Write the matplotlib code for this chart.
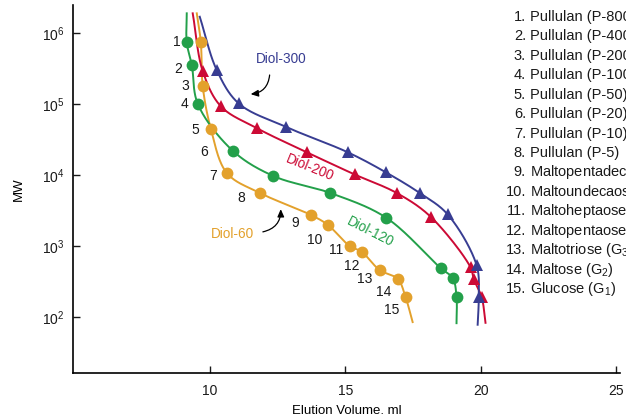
import numpy as np
import matplotlib
matplotlib.use("Agg")
import matplotlib.pyplot as plt

plt.rcParams['font.family'] = ['Liberation Sans', 'DejaVu Sans']
plt.rcParams['mathtext.fontset'] = 'custom'
plt.rcParams['mathtext.rm'] = 'Liberation Sans'
plt.rcParams['mathtext.it'] = 'Liberation Sans:italic'
plt.rcParams['mathtext.default'] = 'regular'

# marker values (elution volume ml, MW)
d60_x = [9.67, 9.74, 10.04, 10.63, 11.85, 13.73, 14.35, 15.17, 15.61, 16.27, 16.94, 17.23]
d60_mw = [7.4e5, 1.78e5, 4.5e4, 1.07e4, 5.6e3, 2.75e3, 2.0e3, 1.0e3, 830, 460, 345, 190]
d120_x = [9.15, 9.34, 9.56, 10.85, 12.35, 14.45, 16.52, 18.52, 18.97, 19.11]
d120_mw = [7.4e5, 3.5e5, 1.0e5, 2.2e4, 9.7e3, 5.6e3, 2.5e3, 490, 355, 190]
d200_x = [9.74, 10.41, 11.73, 13.58, 15.35, 16.90, 18.15, 19.63, 19.74, 20.04]
d200_mw = [2.92e5, 9.3e4, 4.6e4, 2.1e4, 1.02e4, 5.6e3, 2.6e3, 500, 347, 190]
d300_x = [10.26, 11.07, 12.80, 15.09, 16.49, 17.75, 18.78, 19.85, 19.93]
d300_mw = [3.0e5, 1.02e5, 4.8e4, 2.1e4, 1.1e4, 5.6e3, 2.8e3, 540, 190]

# where each fitted line starts (top) and ends (bottom)
d60_ends = [(9.52, 1.9e6), (17.49, 85)]
d120_ends = [(9.15, 1.9e6), (19.11, 82)]
d200_ends = [(9.37, 1.9e6), (20.18, 83)]
d300_ends = [(9.63, 1.7e6), (19.89, 78)]

standards = ["Pullulan (P-800)", "Pullulan (P-400)", "Pullulan (P-200)", "Pullulan (P-100)",
             "Pullulan (P-50)", "Pullulan (P-20)", "Pullulan (P-10)", "Pullulan (P-5)",
             "Maltopentadecaose (G$_{15}$)", "Maltoundecaose (G$_{11}$)",
             "Maltoheptaose (G$_{7}$)", "Maltopentaose (G$_{5}$)", "Maltotriose (G$_{3}$)",
             "Maltose (G$_{2}$)", "Glucose (G$_{1}$)"]

# number label positions (data coords)
num_pos = [(8.78, 7.4e5), (8.82, 3.1e5), (9.10, 1.78e5), (9.08, 1.0e5), (9.48, 4.3e4),
           (9.78, 2.1e4), (10.11, 9.8e3), (11.18, 4.8e3), (13.17, 2.1e3), (13.87, 1.2e3),
           (14.65, 870), (15.24, 525), (15.72, 347), (16.42, 224), (16.72, 126)]

blue = '#383d92'
red = '#cc0a35'
green = '#23a04a'
orange = '#e3a12c'

SX, SY = 27.1, 71.0  # rough px per ml / per decade, for smoothing in display-like space


def smooth(xs, ys, ends, n=30):
    px = np.array([ends[0][0]] + list(xs) + [ends[1][0]]) * SX
    py = np.log10([ends[0][1]] + list(ys) + [ends[1][1]]) * SY
    P = np.column_stack([px, py])
    P = np.vstack([2 * P[0] - P[1], P, 2 * P[-1] - P[-2]])
    out = []
    for i in range(1, len(P) - 2):
        p0, p1, p2, p3 = P[i - 1], P[i], P[i + 1], P[i + 2]
        t0 = 0.0
        t1 = t0 + np.linalg.norm(p1 - p0) ** 0.5
        t2 = t1 + np.linalg.norm(p2 - p1) ** 0.5
        t3 = t2 + np.linalg.norm(p3 - p2) ** 0.5
        t = np.linspace(t1, t2, n, endpoint=False)[:, None]
        a1 = (t1 - t) / (t1 - t0) * p0 + (t - t0) / (t1 - t0) * p1
        a2 = (t2 - t) / (t2 - t1) * p1 + (t - t1) / (t2 - t1) * p2
        a3 = (t3 - t) / (t3 - t2) * p2 + (t - t2) / (t3 - t2) * p3
        b1 = (t2 - t) / (t2 - t0) * a1 + (t - t0) / (t2 - t0) * a2
        b2 = (t3 - t) / (t3 - t1) * a2 + (t - t1) / (t3 - t1) * a3
        out.append((t2 - t) / (t2 - t1) * b1 + (t - t1) / (t2 - t1) * b2)
    out.append(P[-2][None])
    out = np.vstack(out)
    return out[:, 0] / SX, 10 ** (out[:, 1] / SY)


fig = plt.figure(figsize=(6.26, 4.19), dpi=100)
ax = fig.add_axes([0.1166, 0.1098, 0.874, 0.878])

series = [
    (d60_x, d60_mw, d60_ends, orange, 'o'),
    (d120_x, d120_mw, d120_ends, green, 'o'),
    (d200_x, d200_mw, d200_ends, red, '^'),
    (d300_x, d300_mw, d300_ends, blue, '^'),
]
for xs, ys, ends, c, m in series:
    cx, cy = smooth(xs, ys, ends)
    ax.plot(cx, cy, color=c, lw=1.4, zorder=2)
for xs, ys, ends, c, m in series:
    ax.plot(xs, ys, linestyle='none', marker=m, color=c, markersize=8.5 if m == 'o' else 8,
            markeredgewidth=0, zorder=3)

for i, (x, y) in enumerate(num_pos):
    ax.text(x, y, str(i + 1), fontsize=10, ha='center', va='center', color='#1a1a1a')

ax.text(12.62, 10 ** 5.63, "Diol-300", color=blue, fontsize=9.8, ha='center', va='center')
ax.text(13.69, 10 ** 4.10, "Diol-200", color=red, fontsize=9.8, ha='center', va='center', rotation=-22)
ax.text(15.94, 10 ** 3.20, "Diol-120", color=green, fontsize=9.8, ha='center', va='center', rotation=-27)
ax.text(10.85, 10 ** 3.17, "Diol-60", color=orange, fontsize=9.8, ha='center', va='center')

ax.annotate("", xy=(11.51, 10 ** 5.14), xytext=(12.21, 10 ** 5.41),
            arrowprops=dict(arrowstyle='-|>,head_length=0.45,head_width=0.2', color='black',
                            lw=0.9, connectionstyle='arc3,rad=-0.4', shrinkA=0, shrinkB=0))
ax.annotate("", xy=(12.62, 10 ** 3.52), xytext=(11.96, 10 ** 3.20),
            arrowprops=dict(arrowstyle='-|>,head_length=0.45,head_width=0.2', color='black',
                            lw=0.9, connectionstyle='arc3,rad=0.4', shrinkA=0, shrinkB=0))

ax.set_yscale('log')
ax.set_xlim(4.95, 25.15)
ax.set_ylim(16.3, 2.48e6)
ax.set_xticks([10, 15, 20, 25])
ax.set_yticks([1e2, 1e3, 1e4, 1e5, 1e6])
ax.yaxis.set_minor_locator(matplotlib.ticker.NullLocator())
ax.tick_params(direction='in', length=5, width=1, labelsize=10, colors='#1a1a1a', pad=6)
ax.tick_params(axis='x', pad=8)
for s in ['top', 'right']:
    ax.spines[s].set_visible(False)
for s in ['left', 'bottom']:
    ax.spines[s].set_linewidth(1.2)
ax.set_xlabel("Elution Volume. ml", fontsize=9.5, labelpad=5)
ax.set_ylabel("MW", fontsize=9.5, labelpad=12)

# standards list on the right (runs off the edge as in the original)
for i, name in enumerate(standards):
    yy = 1 - (17 + i * 19.43) / 419
    fig.text(526 / 626, yy, f"{i + 1}.", fontsize=10.5, ha='right', va='center', color='#1a1a1a')
    fig.text(530 / 626, yy, name, fontsize=10.5, ha='left', va='center', color='#1a1a1a')

fig.savefig("out.png", dpi=100)
